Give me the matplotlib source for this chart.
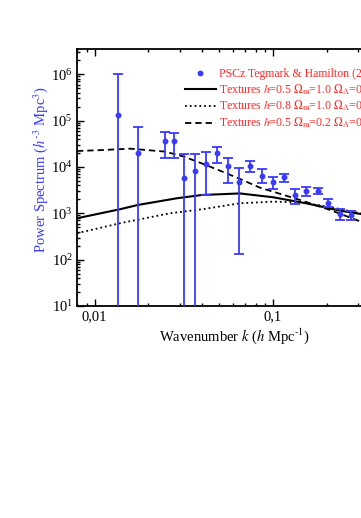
import numpy as np
from matplotlib import pyplot as plt
from matplotlib import ticker

plt.rcParams["font.family"] = ["Liberation Serif", "DejaVu Serif"]
plt.rcParams["mathtext.fontset"] = "stix"

# PSCz band powers (Tegmark & Hamilton)
k_data = [0.01356, 0.01742, 0.02489, 0.02795, 0.03180, 0.03651, 0.04209, 0.04851,
          0.05614, 0.06463, 0.07475, 0.08643, 0.09975, 0.1152, 0.1334, 0.1541,
          0.1781, 0.2048, 0.2375, 0.2748]
p_data = [1.32e5, 2.03e4, 3.69e4, 3.69e4, 5.70e3, 8.32e3, 1.15e4, 1.97e4,
          1.04e4, 4.74e3, 1.07e4, 6.49e3, 4.74e3, 5.99e3, 2.46e3, 3.03e3,
          2.99e3, 1.64e3, 977, 921]
p_hi = [1.03e6, 7.3e4, 5.69e4, 5.41e4, 1.88e4, 1.88e4, 2.10e4, 2.63e4,
        1.56e4, 9.36e3, 1.37e4, 8.91e3, 6.17e3, 6.95e3, 3.31e3, 3.75e3,
        3.52e3, 2.04e3, 1.22e3, 1.14e3]
p_lo = [1.0, 1.0, 1.54e4, 1.56e4, 1.0, 1.0, 2.52e3, 1.23e4,
        4.45e3, 132, 7.91e3, 4.45e3, 3.30e3, 4.81e3, 1.59e3, 2.37e3,
        2.55e3, 1.35e3, 700, 700]

# texture model curves
k_solid = [0.00796, 0.01386, 0.01749, 0.02894, 0.03996, 0.0653, 0.1, 0.1532, 0.2375, 0.3114, 0.36]
p_solid = [781, 1222, 1514, 2110, 2485, 2680, 2219, 1646, 1140, 966, 880]

k_dot = [0.00796, 0.01386, 0.02645, 0.03996, 0.0653, 0.1, 0.1417, 0.2088, 0.3114, 0.36]
p_dot = [371, 609, 1000, 1221, 1645, 1781, 1729, 1368, 991, 900]

k_dash = [0.00796, 0.01071, 0.01578, 0.02479, 0.03168, 0.04209, 0.05043, 0.0653,
          0.08455, 0.1417, 0.2088, 0.3114, 0.36]
p_dash = [2.21e4, 2.3e4, 2.48e4, 2.14e4, 1.67e4, 1.10e4, 8.32e3, 5.51e3,
          3.57e3, 1.94e3, 1.18e3, 659, 560]

labels = [
    "PSCz Tegmark & Hamilton (2001)",
    r"Textures $h$=0.5 $\Omega_{\rm m}$=1.0 $\Omega_\Lambda$=0.0",
    r"Textures $h$=0.8 $\Omega_{\rm m}$=1.0 $\Omega_\Lambda$=0.0",
    r"Textures $h$=0.5 $\Omega_{\rm m}$=0.2 $\Omega_\Lambda$=0.8",
]

blue = "#3a3aff"
red = "#ff2a2a"

fig = plt.figure(figsize=(3.61, 5.18), dpi=100)
ax = fig.add_axes([77 / 361, 1 - 306 / 518, (397.6 - 77) / 361, (306 - 49) / 518])

k_arr = np.array(k_data)
p_arr = np.array(p_data)
yerr = [p_arr - np.array(p_lo), np.array(p_hi) - p_arr]
ax.errorbar(k_arr, p_arr, yerr=yerr, fmt="none", ecolor=blue, elinewidth=1.3,
            capsize=3.8, capthick=1.3, zorder=3)
pts, = ax.plot(k_arr, p_arr, "o", color=blue, ms=3.2, zorder=4)

l1, = ax.plot(k_solid, p_solid, "-", color="black", lw=1.5)
l2, = ax.plot(k_dot, p_dot, ":", color="black", lw=1.3)
l3, = ax.plot(k_dash, p_dash, "--", color="black", lw=1.3, dashes=(3.5, 2.2))

ax.set_xscale("log")
ax.set_yscale("log")
ax.set_xlim(0.00796, 0.5)
ax.set_ylim(10, 3.5e6)

ax.xaxis.set_major_locator(ticker.FixedLocator([0.01, 0.1]))
ax.xaxis.set_major_formatter(ticker.FixedFormatter(["0,01", "0,1"]))
ax.xaxis.set_minor_locator(ticker.LogLocator(base=10, subs=np.arange(2, 10)))
ax.xaxis.set_minor_formatter(ticker.NullFormatter())
ax.yaxis.set_major_locator(ticker.LogLocator(base=10, numticks=10))
ax.yaxis.set_minor_locator(ticker.LogLocator(base=10, subs=np.arange(2, 10), numticks=10))
ax.yaxis.set_minor_formatter(ticker.NullFormatter())

ax.tick_params(which="both", direction="in", top=True, right=True, labelsize=10.5, width=1.0)
ax.tick_params(which="major", length=5, pad=3)
ax.tick_params(which="minor", length=2.5)
for s in ax.spines.values():
    s.set_linewidth(1.3)

fig.text(234 / 361, 1 - 336 / 518, r"Wavenumber $k$ ($h$ Mpc$^{\text{-1}}$)",
         ha="center", va="center", fontsize=10.5)
fig.text(41 / 361, 1 - 170 / 518, r"Power Spectrum ($h^{\text{-3}}$ Mpc$^{3}$)",
         ha="center", va="center", rotation=90, fontsize=10.5, color=blue)

leg = ax.legend([pts, l1, l2, l3], labels, loc="upper left",
                bbox_to_anchor=(185 / 361, 1 - 68 / 518), bbox_transform=fig.transFigure,
                frameon=False, fontsize=8.5, handlelength=2.6, handletextpad=0.25,
                borderpad=0, borderaxespad=0, labelspacing=0.19, numpoints=1)
for t in leg.get_texts():
    t.set_color(red)

fig.savefig("out.png", dpi=100)
